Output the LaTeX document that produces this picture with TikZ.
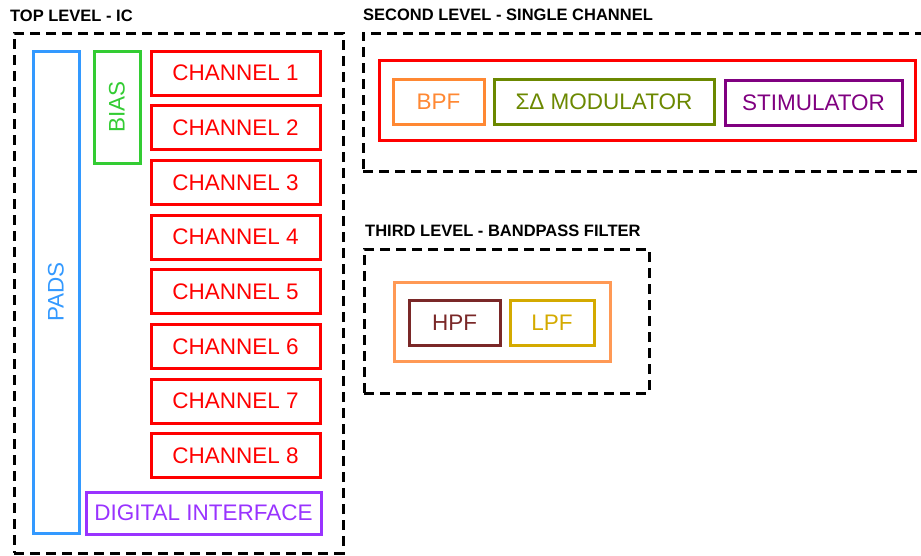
\documentclass[tikz,border=0pt]{standalone}
\usepackage{fontspec}
\setmainfont{Liberation Sans}
\definecolor{cred}{HTML}{FF0000}
\definecolor{cblue}{HTML}{3399FF}
\definecolor{cgreen}{HTML}{33CC33}
\definecolor{cpurple}{HTML}{9933FF}
\definecolor{corange}{HTML}{FF8833}
\definecolor{cpaleorange}{HTML}{FF9955}
\definecolor{colive}{HTML}{6B8800}
\definecolor{cplum}{HTML}{800080}
\definecolor{cbrown}{HTML}{7A2828}
\definecolor{cgold}{HTML}{D4AA00}
\tikzset{
  lvl/.style={draw=black, line width=3pt, dash pattern=on 10pt off 6pt, rectangle, inner sep=0pt},
  blk/.style={draw=#1, text=#1, line width=3pt, rectangle, inner sep=0pt, font=\fontsize{22.5}{25}\selectfont},
  ttl/.style={anchor=west, inner sep=0pt, font=\bfseries\fontsize{16.5}{19}\selectfont},
}
\begin{document}
\begin{tikzpicture}[x=1pt,y=-1pt]
\useasboundingbox (0,0) rectangle (921,555);
% top level
\node[ttl] (t1) at (10,16) {TOP LEVEL - IC};
\node[lvl, minimum width=329pt, minimum height=520pt] (top) at (178.5,293) {};
\node[blk=cblue, minimum width=46pt, minimum height=482pt] (pads) at (56,292) {};
\node[text=cblue, rotate=90, font=\fontsize{22.5}{25}\selectfont] (padst) at (pads.center) {PADS};
\node[blk=cgreen, minimum width=46pt, minimum height=112pt] (bias) at (117,107) {};
\node[text=cgreen, rotate=90, font=\fontsize{22.5}{25}\selectfont] (biast) at (bias.center) {BIAS};
\foreach \i in {1,...,8}{
  \node[blk=cred, minimum width=169pt, minimum height=44pt] (ch\i) at (235.5,{73+(\i-1)*54.7}) {CHANNEL \i};
}
\node[blk=cpurple, minimum width=235pt, minimum height=42pt] (dig) at (203.5,513) {DIGITAL INTERFACE};
% second level
\node[ttl] (t2) at (363,15) {SECOND LEVEL - SINGLE CHANNEL};
\node[lvl, minimum width=580pt, minimum height=138pt] (sec) at (653,102) {};
\node[draw=cred, line width=3pt, minimum width=536pt, minimum height=80pt, inner sep=0pt] (chan) at (647,100) {};
\node[blk=corange, minimum width=91pt, minimum height=45pt] (bpf) at (438.5,101.5) {BPF};
\node[blk=colive, minimum width=220pt, minimum height=45pt] (sd) at (604,101.5) {ΣΔ MODULATOR};
\node[blk=cplum, minimum width=177pt, minimum height=45pt] (stim) at (813.5,102.5) {STIMULATOR};
% third level
\node[ttl] (t3) at (365,231) {THIRD LEVEL - BANDPASS FILTER};
\node[lvl, minimum width=285pt, minimum height=144pt] (thr) at (506.5,321) {};
\node[draw=cpaleorange, line width=3pt, minimum width=216pt, minimum height=79pt, inner sep=0pt] (bp) at (502,321.5) {};
\node[blk=cbrown, minimum width=91pt, minimum height=45pt] (hpf) at (454.5,322.5) {HPF};
\node[blk=cgold, minimum width=84pt, minimum height=45pt] (lpf) at (552,322.5) {LPF};
\end{tikzpicture}
\end{document}
